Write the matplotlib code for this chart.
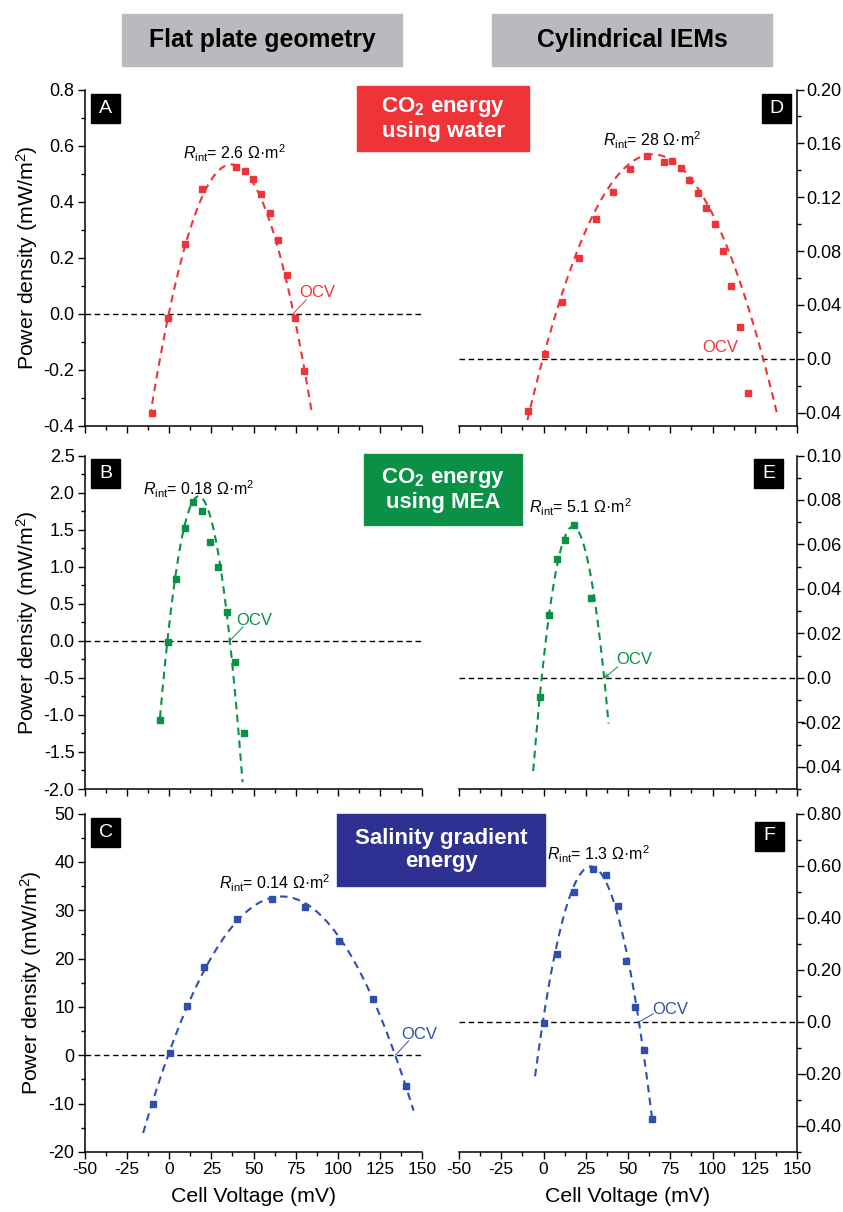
import numpy as np
import matplotlib
matplotlib.use("Agg")
import matplotlib.pyplot as plt
from matplotlib.patches import Rectangle
from matplotlib.ticker import FixedLocator, FixedFormatter, MultipleLocator
from matplotlib.transforms import blended_transform_factory, ScaledTranslation

plt.rcParams["font.family"] = ["Liberation Sans", "DejaVu Sans"]
plt.rcParams["mathtext.fontset"] = "custom"
plt.rcParams["mathtext.rm"] = "Liberation Sans"
plt.rcParams["mathtext.it"] = "Liberation Sans:italic"
plt.rcParams["mathtext.bf"] = "Liberation Sans:bold"
plt.rcParams["axes.unicode_minus"] = False

W, H = 843, 1212

# measured points: cell voltage (mV) / power density (mW/m2)
a_v = [-10.5, -0.6, 9.3, 19.4, 39.5, 44.7, 49.8, 54.7, 59.7, 64.6, 69.7, 74.7, 79.8]
a_p = [-0.352, -0.014, 0.248, 0.446, 0.522, 0.511, 0.480, 0.428, 0.358, 0.263, 0.140, -0.014, -0.203]
b_v = [-5.7, -0.8, 4.1, 9.1, 14.2, 19.2, 24.1, 29.2, 34.2, 39.2, 44.2]
b_p = [-1.066, -0.018, 0.838, 1.523, 1.868, 1.747, 1.335, 0.999, 0.390, -0.291, -1.250]
c_v = [-9.4, 0.5, 10.6, 20.5, 40.5, 60.7, 80.7, 100.7, 120.7, 140.7]
c_p = [-10.1, 0.55, 10.25, 18.35, 28.2, 32.4, 30.7, 23.7, 11.6, -6.4]
d_v = [-9.1, 1.0, 11.1, 20.9, 31.0, 41.1, 51.0, 61.2, 71.1, 76.1, 81.2, 86.1, 91.3,
       96.2, 101.2, 106.3, 111.2, 116.2, 121.1]
d_p = [-0.0392, 0.0037, 0.0421, 0.0751, 0.1041, 0.1239, 0.1408, 0.1504, 0.1462, 0.1467,
       0.1420, 0.1331, 0.1234, 0.1118, 0.1004, 0.0803, 0.0538, 0.0235, -0.0258]
e_v = [-1.8, 3.2, 8.1, 13.0, 18.2, 28.2]
e_p = [-0.0084, 0.0281, 0.0534, 0.0620, 0.0687, 0.0358]
f_v = [0.2, 7.9, 17.9, 29.2, 36.9, 44.0, 49.1, 54.3, 59.2, 64.2]
f_p = [-0.003, 0.259, 0.499, 0.586, 0.565, 0.446, 0.235, 0.058, -0.110, -0.374]

# points: start, zero, top, OCV, end
a_fit_v = [-11.4, -0.6, 37.0, 73.8, 84.4]
a_fit_p = [-0.373, 0.0, 0.53, 0.0, -0.343]
b_fit_v = [-5.5, -1.6, 16.2, 36.0, 43.5]
b_fit_p = [-1.12, 0.0, 1.905, 0.0, -1.905]
c_fit_v = [-15.5, -1.1, 66.0, 134.1, 145.0]
c_fit_p = [-16.4, 0.0, 32.7, 0.0, -11.4]
d_fit_v = [-9.5, -0.2, 63.0, 129.8, 138.7]
d_fit_p = [-0.045, 0.0, 0.152, 0.0, -0.043]
e_fit_v = [-6.1, -1.0, 18.0, 36.0, 38.5]
e_fit_p = [-0.0415, 0.0, 0.068, 0.0, -0.0213]
f_fit_v = [-5.0, -1.0, 28.6, 56.2, 64.2]
f_fit_p = [-0.232, 0.0, 0.595, 0.0, -0.36]

rint_labels = ["2.6", "0.18", "0.14", "28", "5.1", "1.3"]

x_ticks = [-50, -25, 0, 25, 50, 75, 100, 125, 150]
a_ticks = [-0.4, -0.2, 0.0, 0.2, 0.4, 0.6, 0.8]
a_ticklabels = ["-0.4", "-0.2", "0.0", "0.2", "0.4", "0.6", "0.8"]
b_ticks = [-2.0, -1.5, -1.0, -0.5, 0.0, 0.5, 1.0, 1.5, 2.0, 2.5]
b_ticklabels = ["-2.0", "-1.5", "-1.0", "-0.5", "0.0", "0.5", "1.0", "1.5", "2.0", "2.5"]
c_ticks = [-20, -10, 0, 10, 20, 30, 40, 50]
c_ticklabels = ["-20", "-10", "0", "10", "20", "30", "40", "50"]
d_ticks = [-0.04, 0.0, 0.04, 0.08, 0.12, 0.16, 0.20]
d_ticklabels = ["-0.04", "0.0", "0.04", "0.08", "0.12", "0.16", "0.20"]
e_ticks = [-0.04, -0.02, 0.0, 0.02, 0.04, 0.06, 0.08, 0.10]
e_ticklabels = ["-0.04", "-0.02", "0.0", "0.02", "0.04", "0.06", "0.08", "0.10"]
f_ticks = [-0.40, -0.20, 0.0, 0.20, 0.40, 0.60, 0.80]
f_ticklabels = ["-0.40", "-0.20", "0.0", "0.20", "0.40", "0.60", "0.80"]

RED = "#ee3438"
GREEN = "#0b9146"
BLUE = "#2e4fae"
BLUE_BOX = "#2e3192"
GREY = "#b9babd"


def fig_rect(x0, y0, x1, y1):
    """pixel box (top-left origin) -> figure fraction rect"""
    return [x0 / W, 1 - y1 / H, (x1 - x0) / W, (y1 - y0) / H]


panels = [
    dict(letter="A", col=0, row=0, v=a_v, p=a_p, fv=a_fit_v, fp=a_fit_p, ylim=(-0.4, 0.8),
         ticks=a_ticks, labels=a_ticklabels, minor=0.1, color=RED, rint=(38.9, 0.574),
         ocv=(87.7, 0.076), line=((81.4, 0.051), (73.5, 0.0)), arrow=False),
    dict(letter="B", col=0, row=1, v=b_v, p=b_p, fv=b_fit_v, fp=b_fit_p, ylim=(-2.0, 2.5),
         ticks=b_ticks, labels=b_ticklabels, minor=0.25, color=GREEN, rint=(17.7, 2.05),
         ocv=(50.5, 0.278), line=((43.9, 0.19), (36.0, 0.0)), arrow=False),
    dict(letter="C", col=0, row=2, v=c_v, p=c_p, fv=c_fit_v, fp=c_fit_p, ylim=(-20, 50),
         ticks=c_ticks, labels=c_ticklabels, minor=5, color=BLUE, rint=(62.9, 35.5),
         ocv=(148.2, 4.4), line=((142.1, 3.0), (134.2, 0.0)), arrow=False),
    dict(letter="D", col=1, row=0, v=d_v, p=d_p, fv=d_fit_v, fp=d_fit_p, ylim=(-0.05, 0.20),
         ticks=d_ticks, labels=d_ticklabels, minor=0.02, color=RED, rint=(64.1, 0.162),
         ocv=(104.4, 0.008), line=None, arrow=False),
    dict(letter="E", col=1, row=1, v=e_v, p=e_p, fv=e_fit_v, fp=e_fit_p, ylim=(-0.05, 0.10),
         ticks=e_ticks, labels=e_ticklabels, minor=0.01, color=GREEN, rint=(21.7, 0.0765),
         ocv=(53.6, 0.0084), line=((43.9, 0.0049), (36.0, 0.0)), arrow=True),
    dict(letter="F", col=1, row=2, v=f_v, p=f_p, fv=f_fit_v, fp=f_fit_p, ylim=(-0.5, 0.8),
         ticks=f_ticks, labels=f_ticklabels, minor=0.1, color=BLUE, rint=(32.6, 0.643),
         ocv=(74.9, 0.048), line=((65.1, 0.031), (56.6, 0.0)), arrow=False),
]

col_x = [(85, 422), (459, 797)]
row_y = [(89.5, 426), (455.5, 789), (813.5, 1152)]
letter_box = {"A": (91, 94), "B": (91, 459), "C": (91, 818),
              "D": (762, 94), "E": (754, 459.5), "F": (754.5, 821.5)}

fig = plt.figure(figsize=(W / 100, H / 100), dpi=100)

for i, pn in enumerate(panels):
    x0, x1 = col_x[pn["col"]]
    y0, y1 = row_y[pn["row"]]
    ax = fig.add_axes(fig_rect(x0, y0, x1, y1))
    ax.set_xlim(-50, 150)
    ax.set_ylim(*pn["ylim"])
    ax.patch.set_alpha(0)

    ax.axhline(0, color="black", lw=1.0, ls=(0, (4, 2.6)), zorder=1)
    coef = np.polyfit(pn["fv"], pn["fp"], 2)
    vv = np.linspace(pn["fv"][0], pn["fv"][-1], 200)
    ax.plot(vv, np.polyval(coef, vv), color=pn["color"], lw=1.5, ls=(0, (3.6, 2.6)), zorder=2)
    ax.plot(pn["v"], pn["p"], ls="none", marker="s", ms=5, color=pn["color"], zorder=3)

    # spines / ticks
    for s in ["top", "right", "left", "bottom"]:
        ax.spines[s].set_linewidth(1.1)
    ax.spines["top"].set_visible(False)
    ax.xaxis.set_major_locator(FixedLocator(x_ticks))
    ax.xaxis.set_minor_locator(MultipleLocator(12.5))
    ax.yaxis.set_major_locator(FixedLocator(pn["ticks"]))
    ax.yaxis.set_major_formatter(FixedFormatter(pn["labels"]))
    ax.yaxis.set_minor_locator(MultipleLocator(pn["minor"]))
    ax.tick_params(which="major", direction="out", length=5, width=1.0, pad=2.5)
    ax.tick_params(which="minor", direction="out", length=2.6, width=1.0)
    ax.tick_params(axis="y", labelsize=13)
    ax.tick_params(axis="x", labelsize=12.5)
    if pn["col"] == 0:
        ax.spines["right"].set_visible(False)
        ax.set_ylabel("Power density (mW/m$^2$)", fontsize=15.3, labelpad=3)
    else:
        ax.spines["left"].set_visible(False)
        ax.yaxis.tick_right()
        ax.tick_params(axis="y", labelright=False)
        # right-hand labels: digits start at one x, the minus sign hangs to the left
        base = blended_transform_factory(ax.transAxes, ax.transData)
        for val, lab in zip(pn["ticks"], pn["labels"]):
            dx = 9.5 - (6.0 if lab.startswith("-") else 0.0)
            ax.text(1.0, val, lab, fontsize=13, ha="left", va="center_baseline", clip_on=False,
                    transform=base + ScaledTranslation(dx / 100, 0, fig.dpi_scale_trans))
    if pn["row"] < 2:
        ax.tick_params(axis="x", labelbottom=False)
    else:
        ax.set_xlabel("Cell Voltage (mV)", fontsize=15.3, labelpad=7)

    # annotations
    ax.text(*pn["rint"], r"$R_{\mathrm{int}}$= " + rint_labels[i] + " Ω·m$^2$",
            fontsize=11.5, ha="center", va="center")
    ax.text(*pn["ocv"], "OCV", fontsize=12, color=pn["color"], ha="center", va="center")
    if pn["line"] is not None:
        (sx, sy), (ex, ey) = pn["line"]
        ax.annotate("", xy=(ex, ey), xytext=(sx, sy),
                    arrowprops=dict(arrowstyle="->" if pn["arrow"] else "-",
                                    color=pn["color"], lw=0.7, shrinkA=0, shrinkB=0,
                                    mutation_scale=6))

    # black letter box
    lx, ly = letter_box[pn["letter"]]
    fig.patches.append(Rectangle((lx / W, 1 - (ly + 29) / H), 29 / W, 29 / H,
                                 transform=fig.transFigure, color="black", zorder=5))
    fig.text((lx + 14.5) / W, 1 - (ly + 14.5) / H, pn["letter"], color="white",
             fontsize=14, ha="center", va="center", zorder=6)

# header boxes
headers = [("Flat plate geometry", (122, 14, 402, 66)), ("Cylindrical IEMs", (492, 14, 772, 66))]
for txt, (bx0, by0, bx1, by1) in headers:
    fig.patches.append(Rectangle((bx0 / W, 1 - by1 / H), (bx1 - bx0) / W, (by1 - by0) / H,
                                 transform=fig.transFigure, color=GREY, zorder=5))
    fig.text((bx0 + bx1) / 2 / W, 1 - (by0 + by1) / 2 / H, txt, fontsize=17.8,
             fontweight="bold", ha="center", va="center", zorder=6)

# coloured category boxes
categories = [
    ("CO$_\\mathbf{2}$ energy\nusing water", RED, (357, 86, 529, 151)),
    ("CO$_\\mathbf{2}$ energy\nusing MEA", GREEN, (364, 454, 522, 525)),
    ("Salinity gradient\nenergy", BLUE_BOX, (337, 814, 545, 886)),
]
for txt, col, (bx0, by0, bx1, by1) in categories:
    fig.patches.append(Rectangle((bx0 / W, 1 - by1 / H), (bx1 - bx0) / W, (by1 - by0) / H,
                                 transform=fig.transFigure, color=col, zorder=5))
    fig.text((bx0 + bx1) / 2 / W, 1 - (by0 + by1) / 2 / H, txt, fontsize=16,
             fontweight="bold", color="white", ha="center", va="center",
             linespacing=1.1, zorder=6)

fig.savefig("out.png", dpi=100)
